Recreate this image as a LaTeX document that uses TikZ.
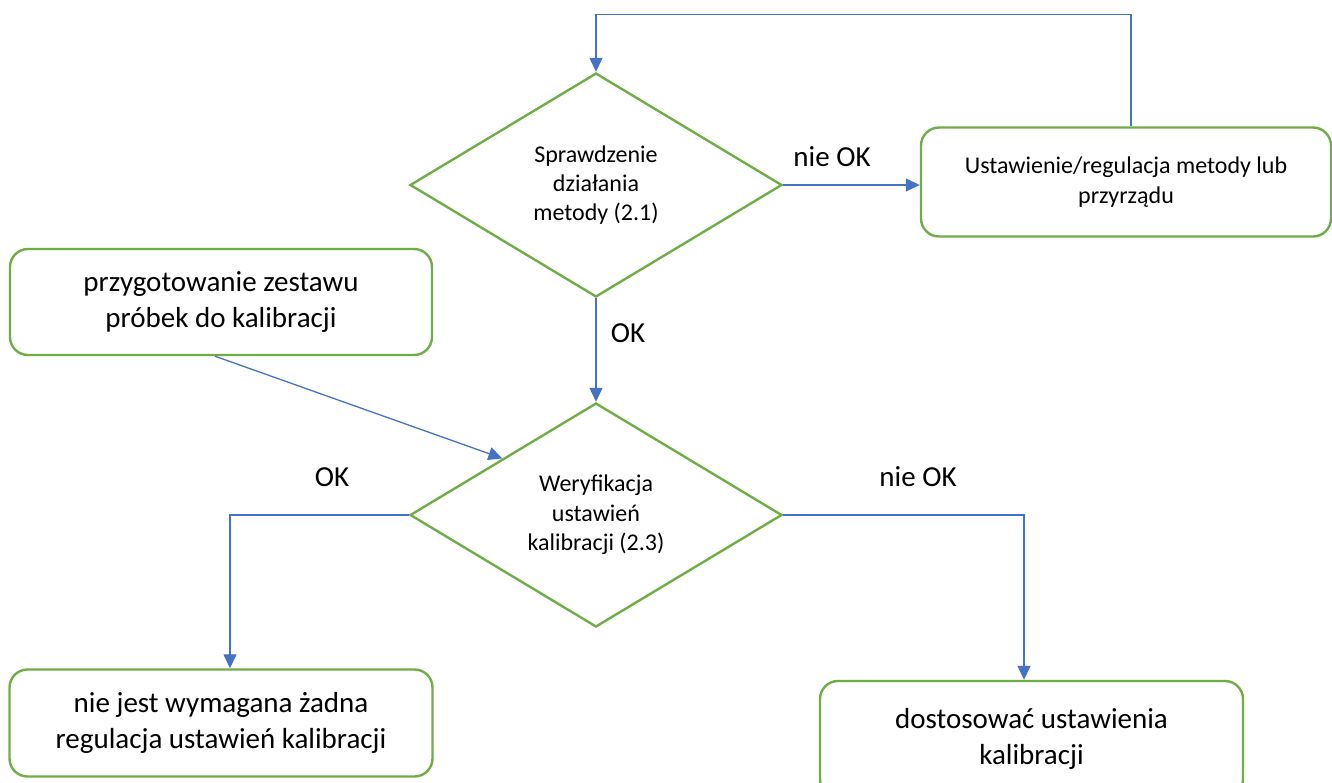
\documentclass[tikz,border=0pt]{standalone}
\usepackage{fontspec}
\setmainfont{Carlito}
\usetikzlibrary{shapes.geometric,arrows.meta}
\definecolor{gr}{RGB}{112,173,71}
\definecolor{bl}{RGB}{68,114,196}
\begin{document}
\begin{tikzpicture}[x=1pt,y=-1pt,
 box/.style={draw=gr,line width=2.4pt,rounded corners=18pt,align=center,inner sep=0pt},
 dia/.style={draw=gr,line width=2.4pt,shape=diamond,inner sep=0pt,align=center,
   font=\fontsize{24}{29.4}\selectfont,minimum width=372pt,minimum height=224pt},
 conn/.style={draw=bl,line width=1.3pt,-{Triangle[length=14pt,width=13pt]}},
 lbl/.style={font=\fontsize{29}{35}\selectfont,inner sep=0pt},
 big/.style={font=\fontsize{29}{36}\selectfont},
 small/.style={font=\fontsize{24}{29.4}\selectfont}]
\useasboundingbox (0,0) rectangle (1332,782);
\node[dia] (d1) at (596,185) {Sprawdzenie\\działania\\metody (2.1)};
\node[dia] (d2) at (596,515) {Weryfikacja\\ustawień\\kalibracji (2.3)};
\node[box,small,minimum width=410pt,minimum height=109pt] (b1) at (1126,182) {Ustawienie/regulacja metody lub\\przyrządu};
\node[box,big,minimum width=422pt,minimum height=106pt] (b2) at (221,302) {przygotowanie zestawu\\próbek do kalibracji};
\node[box,big,minimum width=423pt,minimum height=107pt] (b3) at (221,723) {nie jest wymagana żadna\\regulacja ustawień kalibracji};
\node[box,big,minimum width=423pt,minimum height=116pt] (b4) at (1031.5,739) {dostosować ustawienia\\kalibracji};
\node[lbl] (n1) at (832,157) {nie OK};
\node[lbl] (ok1) at (628,333) {OK};
\node[lbl] (ok2) at (332,477) {OK};
\node[lbl] (n2) at (918,477) {nie OK};
\coordinate (xl) at (230,0);
\coordinate (xr) at (1024,0);
\coordinate (xt) at (1131,0);
\coordinate (xs) at (215,0);
\draw[conn] (d1.east) -- (d1.east -| b1.west);
\draw[conn] (b1.north -| xt) -- ++(0,-112) -| (d1.north);
\draw[conn] (d1.south) -- (d2.north);
\draw[conn] (b2.south -| xs) -- (d2.north west);
\draw[conn] (d2.west) -| (b3.north -| xl);
\draw[conn] (d2.east) -| (b4.north -| xr);
\end{tikzpicture}
\end{document}
